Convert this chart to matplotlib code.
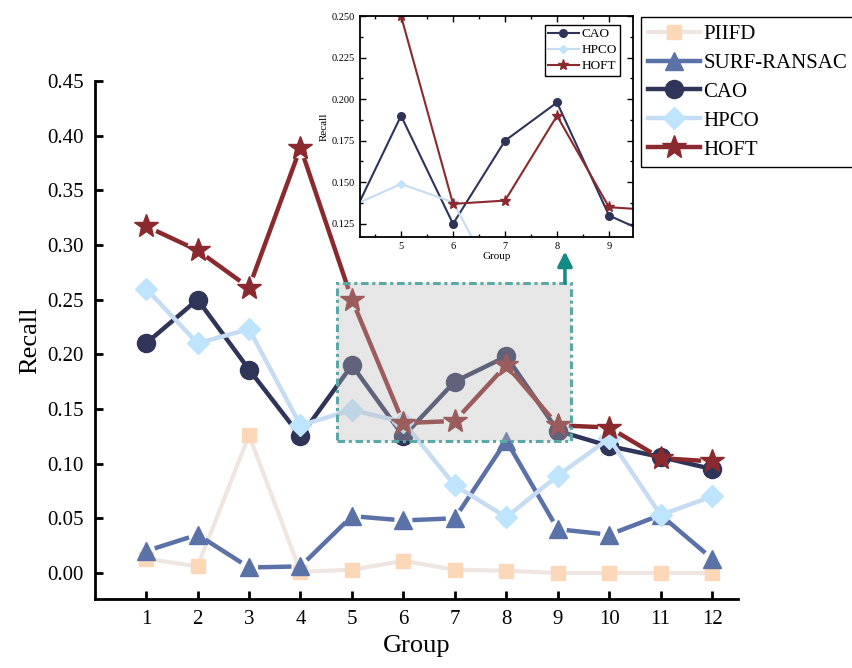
import numpy as np
import matplotlib
matplotlib.use('Agg')
import matplotlib.pyplot as plt
from matplotlib.patches import Rectangle

plt.rcParams['font.family'] = ['Liberation Serif', 'DejaVu Serif']
plt.rcParams['mathtext.fontset'] = 'stix'

groups = [1, 2, 3, 4, 5, 6, 7, 8, 9, 10, 11, 12]
piifd = [0.013, 0.006, 0.126, 0.001, 0.003, 0.011, 0.003, 0.002, 0.000, 0.000, 0.000, 0.000]
surf = [0.020, 0.035, 0.005, 0.006, 0.052, 0.048, 0.050, 0.121, 0.040, 0.035, 0.053, 0.013]
cao = [0.210, 0.250, 0.186, 0.125, 0.190, 0.125, 0.175, 0.198, 0.130, 0.116, 0.106, 0.095]
hpco = [0.260, 0.210, 0.223, 0.135, 0.149, 0.138, 0.080, 0.051, 0.089, 0.123, 0.053, 0.070]
hoft = [0.317, 0.295, 0.261, 0.389, 0.250, 0.137, 0.139, 0.190, 0.135, 0.133, 0.105, 0.102]

# zoom window
zoom_x = (4.70, 9.26)
zoom_y = (0.121, 0.265)

fig = plt.figure(figsize=(8.53, 6.68), dpi=100)
ax = fig.add_axes([0.111, 0.103, 0.754, 0.776])
ax.set_xlim(0, 12.5)
ax.set_ylim(-0.024, 0.45)


def gapped_line(ax, x, y, gap, color, lw, zorder):
    # line segments stop a few pixels short of each marker
    tr = ax.transData
    inv = tr.inverted()
    pts = tr.transform(np.column_stack([x, y]))
    for i in range(len(pts) - 1):
        p0, p1 = pts[i], pts[i + 1]
        d = p1 - p0
        n = np.hypot(*d)
        if n <= 2 * gap:
            continue
        u = d / n
        a = inv.transform(p0 + u * gap)
        b = inv.transform(p1 - u * gap)
        ax.plot([a[0], b[0]], [a[1], b[1]], color=color, lw=lw, zorder=zorder,
                solid_capstyle='butt')


series = [
    ('PIIFD', piifd, '#efe5e1', 's', '#fcd8b9', 10, 3, 0),
    ('SURF-RANSAC', surf, '#5a72a7', '^', '#5a72a7', 13, 3.2, 9),
    ('CAO', cao, '#2f3459', 'o', '#2f3459', 13, 3.2, 0),
    ('HPCO', hpco, '#c5dcf3', 'D', '#bfe4fd', 11, 3.2, 0),
    ('HOFT', hoft, '#8b2a2e', '*', '#8b2a2e', 18, 3.2, 11),
]

for k, (name, vals, lc, mk, mc, ms, lw, gap) in enumerate(series):
    z = 2 + k
    if gap > 0:
        gapped_line(ax, groups, vals, gap, lc, lw, z)
    else:
        ax.plot(groups, vals, color=lc, lw=lw, zorder=z)
    ax.plot(groups, vals, ls='none', marker=mk, ms=ms, color=mc,
            markeredgecolor=mc, zorder=z + 0.5)
    ax.plot([], [], color=lc, lw=lw, marker=mk, ms=ms, mfc=mc, mec=mc, label=name)

ax.add_patch(Rectangle((zoom_x[0], zoom_y[0]), zoom_x[1] - zoom_x[0], zoom_y[1] - zoom_y[0],
                       facecolor='#bababa', alpha=0.35, edgecolor='none', zorder=20))
ax.add_patch(Rectangle((zoom_x[0], zoom_y[0]), zoom_x[1] - zoom_x[0], zoom_y[1] - zoom_y[0],
                       facecolor='none', edgecolor='#5aa9a7', lw=2.2,
                       linestyle=(0, (2.5, 1.2, 1, 1.2)), zorder=21))
ax.annotate('', xy=(9.14, 0.294), xytext=(9.14, zoom_y[1]),
            arrowprops=dict(arrowstyle='-|>', color='#138a84', lw=2.5,
                            mutation_scale=22, shrinkA=0, shrinkB=0), zorder=22)

ax.spines['top'].set_visible(False)
ax.spines['right'].set_visible(False)
for s in ['left', 'bottom']:
    ax.spines[s].set_linewidth(2)
ax.set_xticks(groups)
ax.set_yticks(np.arange(0, 0.451, 0.05))
ax.yaxis.set_major_formatter(plt.FormatStrFormatter('%.2f'))
ax.tick_params(direction='in', length=6, width=2, labelsize=15, pad=8)
ax.set_xlabel('Group', fontsize=19)
ax.set_ylabel('Recall', fontsize=19)

fig.legend(loc='upper left', bbox_to_anchor=(641 / 853, 1 - 17 / 668),
           bbox_transform=fig.transFigure, borderaxespad=0, fontsize=15,
           fancybox=False, edgecolor='black', framealpha=1, handlelength=2.5,
           labelspacing=0.45, handletextpad=0.15, borderpad=0.35)

# inset
axin = fig.add_axes([0.422, 0.645, 0.320, 0.331])
axin.set_xlim(4.21, 9.46)
axin.set_ylim(0.117, 0.250)
axin.plot(groups, cao, color='#2f3459', lw=1.5, marker='o', ms=5.5, label='CAO')
axin.plot(groups, hpco, color='#c5dcf3', lw=1.5, marker='D', ms=4.5, mfc='#bfe4fd',
          mec='#bfe4fd', label='HPCO')
axin.plot(groups, hoft, color='#8b2a2e', lw=1.5, marker='*', ms=8, label='HOFT')
axin.set_xticks([5, 6, 7, 8, 9])
axin.set_xticks([4.5, 5.5, 6.5, 7.5, 8.5], minor=True)
axin.set_yticks([0.125, 0.150, 0.175, 0.200, 0.225, 0.250])
axin.set_yticks(np.arange(0.1375, 0.25, 0.025), minor=True)
axin.yaxis.set_major_formatter(plt.FormatStrFormatter('%.3f'))
axin.tick_params(which='both', direction='in', top=True, right=True, labelsize=7.5)
axin.tick_params(which='major', length=4, width=1)
axin.tick_params(which='minor', length=2, width=1)
for s in axin.spines.values():
    s.set_linewidth(1.3)
axin.set_xlabel('Group', fontsize=8, labelpad=1)
axin.set_ylabel('Recall', fontsize=8, labelpad=2)
axin.legend(loc='upper right', fontsize=9.5, fancybox=False, edgecolor='black',
            framealpha=1, handlelength=2.3, labelspacing=0.28, handletextpad=0.2,
            borderpad=0.25, borderaxespad=0, bbox_to_anchor=(0.952, 0.96))

fig.savefig('out.png', dpi=100)
